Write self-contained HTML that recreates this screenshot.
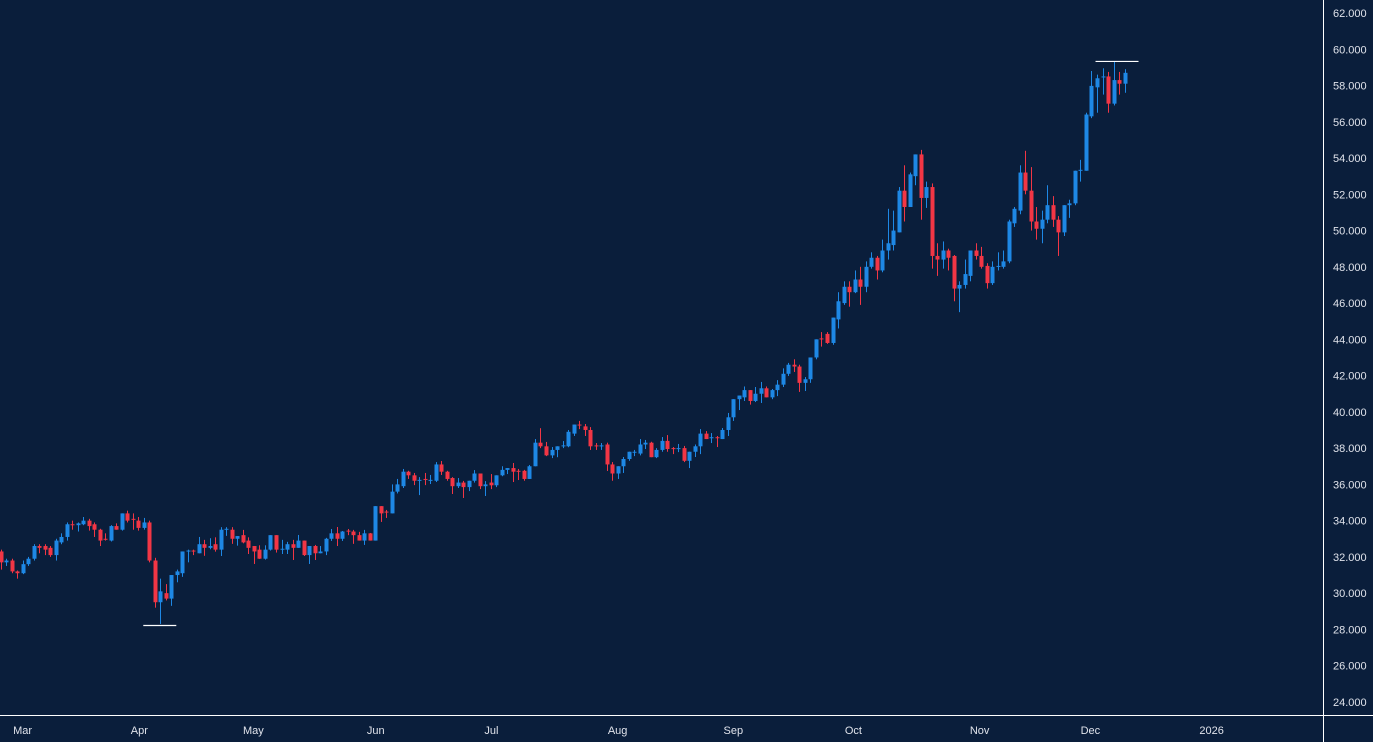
<!DOCTYPE html>
<html><head><meta charset="utf-8"><style>
html,body{margin:0;padding:0;background:#0a1e3b;overflow:hidden}
svg{display:block}
text{font-family:"Liberation Sans",sans-serif;font-size:11px;fill:#e0e3eb}
</style></head><body>
<svg id="chart" width="1373" height="742" xmlns="http://www.w3.org/2000/svg">
<rect x="0" y="0" width="1373" height="742" fill="#0a1e3b"/>
<g id="candles"></g>
<g id="yaxis"></g>
<g id="xaxis"></g>
<line x1="1323.5" y1="0" x2="1323.5" y2="742" stroke="#ffffff" stroke-width="1"/>
<line x1="0" y1="715.5" x2="1373" y2="715.5" stroke="#ffffff" stroke-width="1"/>
</svg>
<script>
const opens=[32.3,31.7,31.8,31.2,31.1,31.6,31.9,32.6,32.6,32.5,32.1,32.8,33.1,33.8,33.75,33.8,34.0,33.8,33.5,33.0,32.9,33.7,33.5,34.4,34.1,34.0,33.6,33.9,31.8,29.5,30.0,29.7,31.0,31.1,32.3,32.35,32.2,
32.7,32.5,32.7,32.4,33.5,33.5,33.0,33.2,32.9,32.6,32.4,31.9,32.4,33.2,32.42,32.4,32.7,32.5,32.9,32.1,32.6,32.2,32.3,33.0,33.3,33.0,33.45,33.4,33.2,32.9,33.3,32.9,34.8,34.5,34.4,35.6,
35.9,36.7,36.5,36.2,36.3,36.2,36.2,37.1,36.7,36.35,35.9,36.1,35.85,36.2,36.6,35.9,36.1,35.95,36.5,36.8,36.9,36.75,36.75,36.3,37.0,38.3,38.1,37.6,37.9,38.1,38.1,38.8,39.3,39.2,39.0,38.15,38.1,38.2,
37.1,36.6,37.0,37.4,37.75,37.7,38.2,38.3,37.5,37.9,38.4,38.0,37.95,38.0,37.3,37.8,38.1,38.8,38.55,38.6,38.5,39.0,39.7,40.7,40.8,41.2,40.6,41.0,41.3,40.8,41.2,41.5,42.1,42.6,42.5,41.6,41.8,43.0,44.05,44.3,43.8,
45.1,46.0,46.9,46.6,47.3,46.9,48.0,48.5,47.8,48.9,49.2,49.9,52.2,51.3,53.0,54.2,51.8,52.4,48.6,48.4,48.9,48.6,46.8,47.0,47.5,48.9,48.6,48.05,
47.1,48.0,48.0,48.3,50.4,51.1,53.2,52.2,50.5,50.1,50.6,51.4,50.6,49.9,51.4,51.5,53.3,53.3,56.3,57.9,58.45,58.5,57.0,58.3,58.1];
const highs=[32.4,31.9,31.9,31.25,31.8,32.0,32.7,32.7,32.7,32.6,33.0,33.3,33.9,34.0,33.9,34.2,34.1,33.9,33.55,33.3,33.75,33.85,34.4,34.55,34.4,34.2,34.15,34.0,31.95,30.8,30.5,31.0,31.3,32.3,32.4,32.4,33.1,
32.94,33.03,33.08,33.64,33.64,33.64,33.15,33.49,33.08,32.6,32.64,32.64,33.2,33.2,32.94,32.83,32.94,33.21,32.9,32.6,32.66,32.6,33.05,33.54,33.65,33.43,33.54,33.49,33.38,33.49,33.32,34.8,34.8,34.59,36.0,36.3,
36.85,36.75,36.63,36.4,36.63,36.52,37.23,37.29,36.75,36.4,36.35,36.19,36.2,36.79,36.6,36.18,36.57,36.5,37.0,36.9,37.18,36.85,36.8,37.07,38.5,39.1,38.34,38.06,38.1,38.39,39.0,39.3,39.5,39.33,39.16,38.28,38.28,38.3,
37.23,37.0,37.51,37.8,37.9,38.5,38.45,38.35,38.0,38.61,38.72,38.06,38.23,38.12,37.8,38.2,39.05,38.94,38.83,38.67,39.11,39.94,40.7,40.9,41.4,41.2,41.37,41.65,41.4,41.26,41.75,42.4,42.7,42.9,42.6,41.92,43.0,44.0,44.4,44.4,45.2,
46.6,47.2,47.2,47.8,48.0,48.3,48.8,48.6,49.5,51.2,51.1,52.4,53.6,53.2,54.2,54.45,52.7,52.6,49.3,49.4,49.0,48.65,47.2,48.4,48.9,49.3,49.1,48.2,
48.3,48.8,48.9,50.6,51.3,53.6,54.4,53.5,51.3,51.1,52.5,51.9,50.8,51.4,51.7,53.3,53.9,56.5,58.8,58.6,58.95,58.75,59.3,58.75,58.9];
const lows=[31.3,31.5,31.1,30.8,31.05,31.5,31.8,32.2,32.1,32.0,31.8,32.7,32.9,33.5,33.4,33.75,33.45,33.1,32.6,32.9,32.85,33.5,33.45,33.9,33.5,33.45,33.5,31.7,29.2,28.3,29.6,29.3,30.6,30.9,31.7,32.1,32.2,
32.06,32.42,32.29,32.05,33.16,32.72,32.62,32.75,32.16,31.61,31.89,31.85,32.35,32.24,32.16,32.16,31.83,32.5,32.05,31.61,31.83,32.2,32.1,32.88,32.6,32.88,33.2,32.72,32.9,32.66,32.9,32.9,33.93,34.15,34.4,35.5,
35.8,36.3,35.96,35.41,35.96,36.02,36.13,36.52,36.2,35.47,35.8,35.25,35.63,36.1,35.74,35.36,35.74,35.85,36.45,36.57,36.13,36.24,36.2,36.3,37.0,38.0,37.56,37.45,37.5,38.0,38.05,38.67,39.05,38.67,37.9,37.9,37.9,36.74,
36.2,36.3,36.63,37.3,37.56,37.6,37.95,37.5,37.45,37.8,37.8,37.67,37.78,37.23,36.9,37.51,37.67,38.5,38.28,38.06,38.5,38.67,39.5,40.1,40.6,40.4,40.54,40.49,40.8,40.7,40.87,41.37,41.98,42.2,41.1,41.15,41.6,42.9,43.6,43.75,43.7,
44.6,45.9,45.8,46.55,45.9,46.6,47.9,47.3,47.7,48.4,48.9,49.9,50.5,51.3,52.5,50.6,51.25,47.9,47.5,47.9,47.8,46.1,45.5,46.8,47.2,48.4,47.9,46.8,
47.0,47.8,47.9,48.2,50.2,50.9,52.0,50.0,49.5,49.3,50.4,50.2,48.6,49.7,50.7,51.4,52.7,53.3,56.2,56.5,57.5,56.5,56.9,57.5,57.6];
const closes=[31.7,31.8,31.2,31.1,31.6,31.9,32.6,32.5,32.4,32.1,32.9,33.1,33.8,33.75,33.85,34.0,33.7,33.5,32.9,32.95,33.7,33.5,34.4,34.0,34.05,33.6,33.9,31.8,29.5,30.1,29.7,31.0,31.2,32.3,32.35,32.3,32.7,
32.5,32.6,32.4,33.5,33.55,33.0,33.15,32.8,32.5,32.3,31.9,32.4,33.2,32.4,32.45,32.7,32.5,32.9,32.1,32.6,32.2,32.3,33.0,33.3,33.0,33.4,33.4,33.2,32.9,33.3,32.9,34.8,34.4,34.45,35.6,36.0,
36.7,36.5,36.2,36.25,36.25,36.25,37.1,36.7,36.3,35.9,36.1,35.85,36.2,36.6,35.9,36.0,35.95,36.5,36.8,36.9,36.7,36.7,36.3,37.0,38.3,38.1,37.6,37.9,38.1,38.15,38.9,39.3,39.25,39.0,38.1,38.1,38.15,37.1,
36.6,37.0,37.4,37.8,37.8,38.2,38.3,37.5,37.9,38.4,37.95,37.95,38.0,37.3,37.8,38.1,38.8,38.5,38.6,38.55,39.0,39.7,40.7,40.9,41.2,40.6,41.0,41.3,40.8,41.2,41.5,42.1,42.6,42.5,41.6,41.8,43.0,44.0,44.0,43.8,45.2,
46.1,46.9,46.6,47.3,46.9,48.0,48.5,47.8,48.9,49.3,50.0,52.2,51.3,53.1,54.2,51.8,52.4,48.6,48.4,48.9,48.5,46.8,47.0,47.6,48.9,48.6,48.0,47.1,
48.0,48.05,48.3,50.5,51.2,53.2,52.2,50.5,50.1,50.6,51.4,50.6,49.9,51.4,51.5,53.3,53.35,56.4,57.98,58.4,58.5,57.0,58.3,58.1,58.7];
const yTicks=[62,60,58,56,54,52,50,48,46,44,42,40,38,36,34,32,30,28,26,24];
const xTickLabels=["Mar","Apr","May","Jun","Jul","Aug","Sep","Oct","Nov","Dec","2026"];
const xTickIndex=[4,25.2,45.9,68.1,89.1,112,133,154.8,177.7,197.8,219.8];

const NS="http://www.w3.org/2000/svg";
const step=5.51, x0=0.5;
function xScale(i){return x0+i*step;}
function yScale(p){return 13+(62-p)*18.13;}
function mk(tag,attrs,parent){const e=document.createElementNS(NS,tag);for(const k in attrs)e.setAttribute(k,attrs[k]);parent.appendChild(e);return e;}
const cg=document.getElementById('candles');
for(let i=0;i<opens.length;i++){
  const up=closes[i]>=opens[i];
  const col=up?'#1e88e5':'#f23645';
  const x=Math.round(xScale(i));
  const g=mk('g',{},cg);
  
  
  mk('rect',{x:x,y:yScale(highs[i]),width:1,height:Math.max(1,yScale(lows[i])-yScale(highs[i])),fill:col},g);
  const top=yScale(Math.max(opens[i],closes[i])),bot=yScale(Math.min(opens[i],closes[i]));
  mk('rect',{x:x-1.5,y:top,width:4,height:Math.max(1,bot-top),fill:col},g);
}
let hi=0,lo=0;
for(let i=1;i<highs.length;i++){if(highs[i]>highs[hi])hi=i;if(lows[i]<lows[lo])lo=i;}
const hl=mk('line',{x1:xScale(hi)-18,x2:xScale(hi)+25,y1:yScale(highs[hi])-0.5,y2:yScale(highs[hi])-0.5,stroke:'#ffffff','stroke-width':1.2},cg);


const ll=mk('line',{x1:xScale(lo)-17,x2:xScale(lo)+16,y1:yScale(lows[lo])+1.5,y2:yScale(lows[lo])+1.5,stroke:'#ffffff','stroke-width':1.2},cg);


const ya=document.getElementById('yaxis');
yTicks.forEach(v=>{
  const t=mk('text',{x:1333,y:yScale(v)+4},ya);
  
  
  t.textContent=v.toFixed(3);
});
const xa=document.getElementById('xaxis');
xTickLabels.forEach((l,k)=>{
  const t=mk('text',{x:xScale(xTickIndex[k]),y:734,'text-anchor':'middle'},xa);
  
  
  t.textContent=l;
});
</script>
</body></html>
